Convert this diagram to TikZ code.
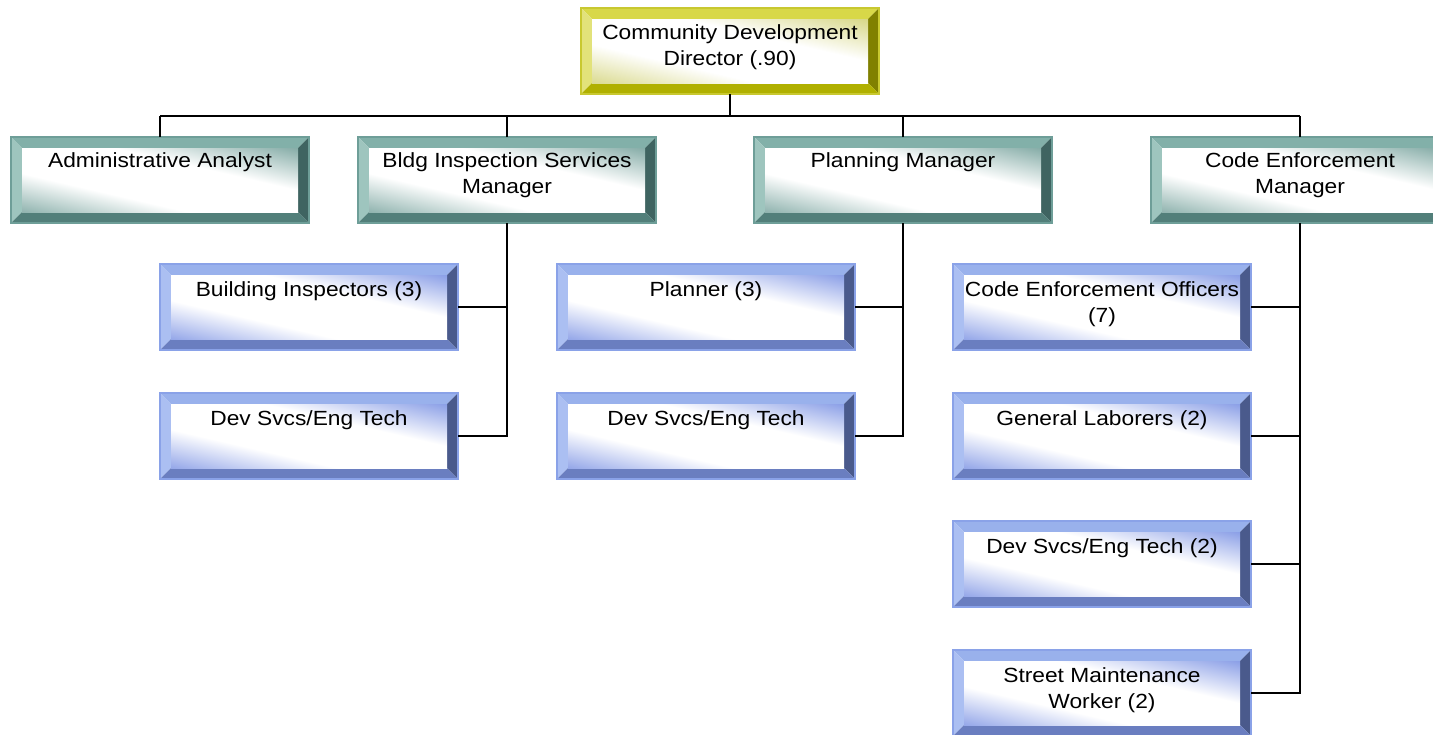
\documentclass[tikz,border=0pt]{standalone}
\usepackage{fontspec}
\setmainfont[FakeStretch=1.11]{Liberation Sans}
\usetikzlibrary{calc}
\definecolor{yT}{HTML}{D8D848}\definecolor{yL}{HTML}{E2E27A}\definecolor{yR}{HTML}{808000}\definecolor{yB}{HTML}{B0B000}\definecolor{yF}{HTML}{D0D070}\definecolor{yO}{HTML}{C8C830}
\definecolor{tT}{HTML}{82B0A9}\definecolor{tL}{HTML}{9EC5BE}\definecolor{tR}{HTML}{3F6461}\definecolor{tB}{HTML}{527F7A}\definecolor{tF}{HTML}{6F9D97}\definecolor{tO}{HTML}{6E9E98}
\definecolor{bT}{HTML}{99B1EC}\definecolor{bL}{HTML}{ABBFF2}\definecolor{bR}{HTML}{4A5A8C}\definecolor{bB}{HTML}{6A7EC0}\definecolor{bF}{HTML}{758DE2}\definecolor{bO}{HTML}{8AA2E8}
\pgfdeclareverticalshading{yface}{100bp}{color(0bp)=(yF); color(8bp)=(yF); color(36bp)=(white); color(62bp)=(white); color(90bp)=(yF); color(100bp)=(yF)}
\pgfdeclareverticalshading{tface}{100bp}{color(0bp)=(tF); color(8bp)=(tF); color(36bp)=(white); color(62bp)=(white); color(90bp)=(tF); color(100bp)=(tF)}
\pgfdeclareverticalshading{bface}{100bp}{color(0bp)=(bF); color(8bp)=(bF); color(36bp)=(white); color(62bp)=(white); color(90bp)=(bF); color(100bp)=(bF)}
% #1 x, #2 y, #3 palette letter, #4 name, #5 baseline offset, #6 text
\newcommand\bevbox[6]{%
  \coordinate (NW) at (#1,#2);
  \coordinate (NE) at ($(#1,#2)+(298,0)$);
  \coordinate (SW) at ($(#1,#2)+(0,86)$);
  \coordinate (SE) at ($(#1,#2)+(298,86)$);
  \coordinate (iNW) at ($(NW)+(11,11)$);
  \coordinate (iNE) at ($(NE)+(-11,11)$);
  \coordinate (iSW) at ($(SW)+(11,-11)$);
  \coordinate (iSE) at ($(SE)+(-11,-11)$);
  \fill[#3T] (NW) -- (NE) -- (iNE) -- (iNW) -- cycle;
  \fill[#3L] (NW) -- (iNW) -- (iSW) -- (SW) -- cycle;
  \fill[#3R] (NE) -- (SE) -- (iSE) -- (iNE) -- cycle;
  \fill[#3B] (SW) -- (SE) -- (iSE) -- (iSW) -- cycle;
  \begin{scope}[transform canvas={shift={(iNW)}, xscale=2.76, yscale=0.64}]
    \shade[shading=#3face, shading angle=-45] (0,0) rectangle (100,100);
  \end{scope}
  \draw[#3O, line width=1.2pt] (NW) rectangle (SE);
  \node[boxbase] (#4) at (NW) {\boxtext{#5}{#6}};
}
\tikzset{
  boxbase/.style={rectangle, inner sep=0pt, outer sep=0pt, anchor=north west},
  conn/.style={draw=black, line width=2pt}
}
\newcommand\boxtext[2]{\parbox[c][86pt][t]{298pt}{\centering\fontsize{20.5}{26.5}\selectfont\rule{0pt}{#1}#2\par}}
\begin{document}
\begin{tikzpicture}[x=1pt,y=-1pt]
\useasboundingbox (0,0) rectangle (1433,734);
\clip (0,0) rectangle (1433,734);
\fill[white] (0,0) rectangle (1433,734);
% level 1
\bevbox{581}{8}{y}{dir}{31pt}{Community Development\\Director (.90)}
% level 2
\bevbox{11}{137}{t}{admin}{30pt}{Administrative Analyst}
\bevbox{358}{137}{t}{bldg}{30pt}{Bldg Inspection Services\\Manager}
\bevbox{754}{137}{t}{plan}{30pt}{Planning Manager}
\bevbox{1151}{137}{t}{code}{30pt}{Code Enforcement\\Manager}
% level 3
\bevbox{160}{264}{b}{bi}{32pt}{Building Inspectors (3)}
\bevbox{160}{393}{b}{dsA}{32pt}{Dev Svcs/Eng Tech}
\bevbox{557}{264}{b}{pl}{32pt}{Planner (3)}
\bevbox{557}{393}{b}{dsB}{32pt}{Dev Svcs/Eng Tech}
\bevbox{953}{264}{b}{ceo}{32pt}{Code Enforcement Officers\\(7)}
\bevbox{953}{393}{b}{gl}{32pt}{General Laborers (2)}
\bevbox{953}{521}{b}{dsC}{32pt}{Dev Svcs/Eng Tech (2)}
\bevbox{953}{650}{b}{smw}{32pt}{Street Maintenance\\Worker (2)}
% connectors
\coordinate (busL) at (160,116);
\coordinate (busR) at (1300,116);
\draw[conn] (dir.south) -- (dir.south |- busL);
\draw[conn] (busL) -- (busR);
\draw[conn] (admin.north) -- (admin.north |- busL);
\draw[conn] (bldg.north) -- (bldg.north |- busL);
\draw[conn] (plan.north) -- (plan.north |- busL);
\draw[conn] (code.north) -- (code.north |- busL);
\draw[conn] (bi.east) -| (bldg.south);
\draw[conn] (dsA.east) -| (bldg.south);
\draw[conn] (pl.east) -| (plan.south);
\draw[conn] (dsB.east) -| (plan.south);
\draw[conn] (ceo.east) -| (code.south);
\draw[conn] (gl.east) -| (code.south);
\draw[conn] (dsC.east) -| (code.south);
\draw[conn] (smw.east) -| (code.south);
\end{tikzpicture}
\end{document}
